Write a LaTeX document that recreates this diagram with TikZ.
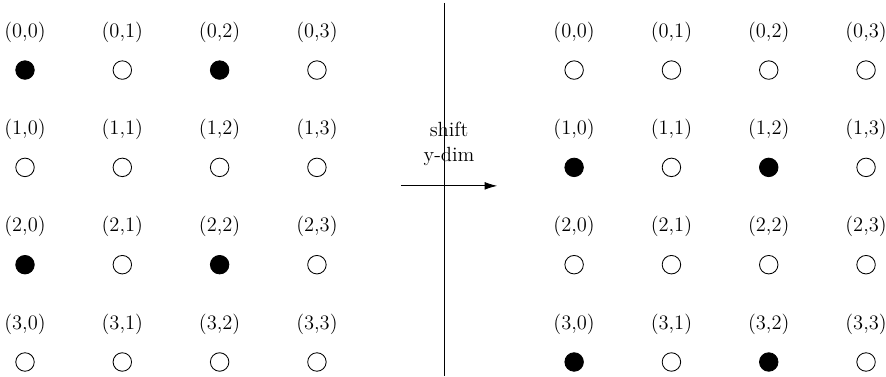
\documentclass[tikz,border=0pt]{standalone}
\usetikzlibrary{arrows.meta}
\begin{document}
\begin{tikzpicture}[
  lab/.style={font=\fontsize{12}{14.5}\selectfont, inner sep=0pt},
  dotw/.style={circle, draw, line width=0.5pt, minimum size=0.38cm, inner sep=0pt},
  dotb/.style={dotw, fill=black}
]
\useasboundingbox (0,0) rectangle (18.21,-7.73);
% left grid
\foreach \i in {0,...,3}{
  \foreach \j in {0,...,3}{
    \node[lab] (La\i\j) at ({0.514+2*\j},{-0.66-2*\i}) {(\i,\j)};
  }
}
\foreach \i in {0,...,3}{
  \foreach \j in {0,...,3}{
    \pgfmathtruncatemacro{\f}{(mod(\i,2)==0 && mod(\j,2)==0) ? 1 : 0}
    \ifnum\f=1
      \node[dotb] (Lc\i\j) at ({0.514+2*\j},{-1.44-2*\i}) {};
    \else
      \node[dotw] (Lc\i\j) at ({0.514+2*\j},{-1.44-2*\i}) {};
    \fi
  }
}
% right grid
\foreach \i in {0,...,3}{
  \foreach \j in {0,...,3}{
    \node[lab] (Ra\i\j) at ({11.80+2*\j},{-0.66-2*\i}) {(\i,\j)};
  }
}
\foreach \i in {0,...,3}{
  \foreach \j in {0,...,3}{
    \pgfmathtruncatemacro{\f}{(mod(\i,2)==1 && mod(\j,2)==0) ? 1 : 0}
    \ifnum\f=1
      \node[dotb] (Rc\i\j) at ({11.80+2*\j},{-1.44-2*\i}) {};
    \else
      \node[dotw] (Rc\i\j) at ({11.80+2*\j},{-1.44-2*\i}) {};
    \fi
  }
}
% separator
\coordinate (vt) at (9.126,-0.06);
\coordinate (vb) at (9.126,-7.73);
\draw[line width=0.6pt] (vt) -- (vb);
% arrow
\coordinate (as) at (8.24,-3.82);
\coordinate (ae) at (10.22,-3.82);
\draw[line width=0.5pt, -{Latex[length=2.6mm,width=1.6mm]}] (as) -- (ae);
\node[lab, align=center] (txt) at (9.23,-2.95) {shift\\y-dim};
\end{tikzpicture}
\end{document}
